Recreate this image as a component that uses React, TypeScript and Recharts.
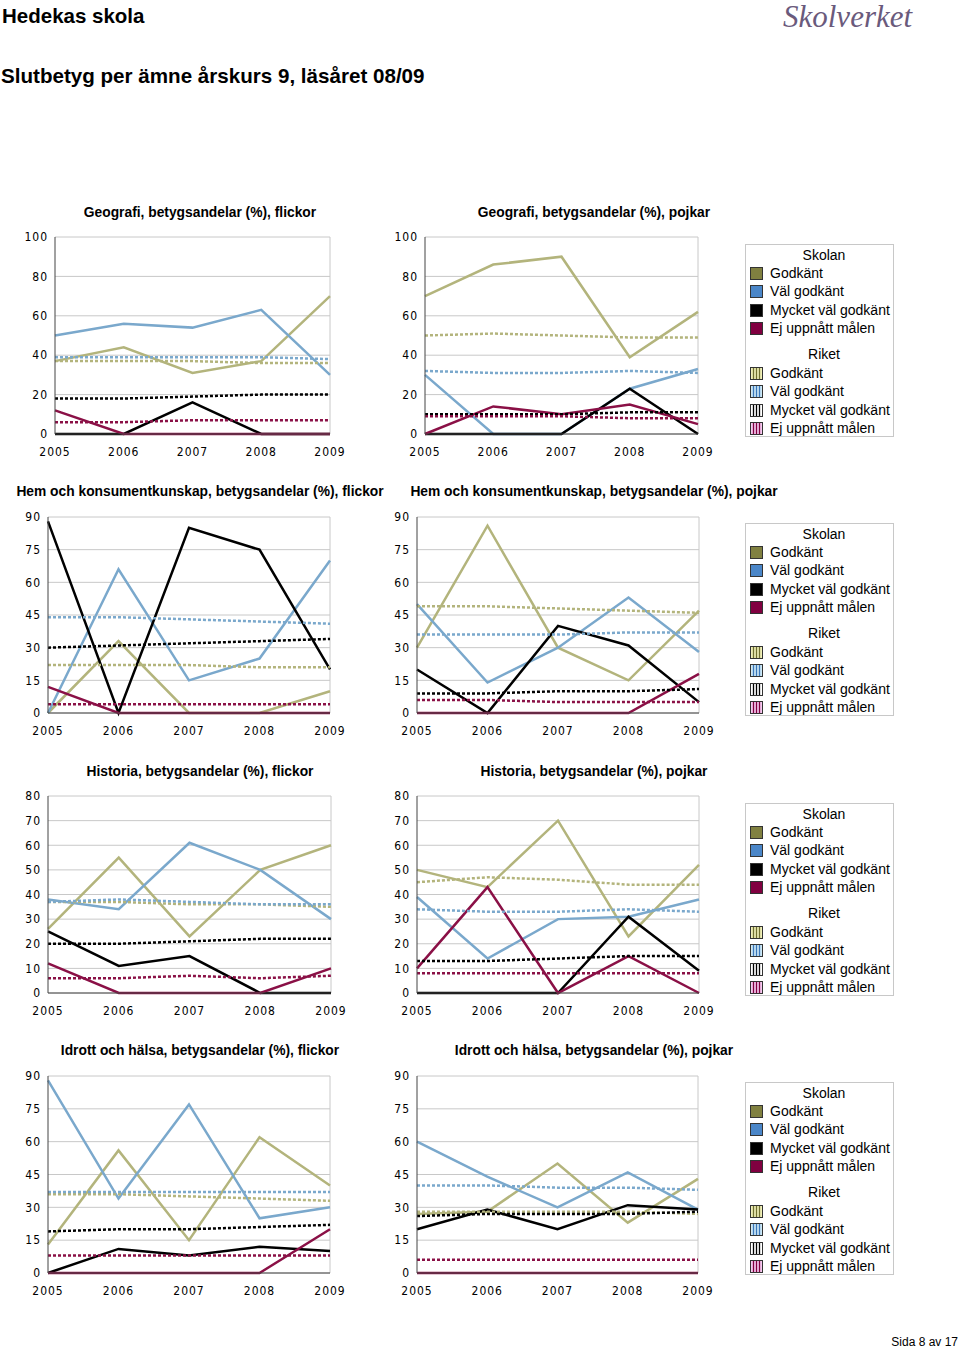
import React from "react";
import { LineChart, Line, XAxis, YAxis, CartesianGrid, ReferenceLine } from "recharts";

const years = ["2005", "2006", "2007", "2008", "2009"];

// Geografi, flickor
const geoF_G = [37, 44, 31, 37, 70];
const geoF_VG = [50, 56, 54, 63, 30];
const geoF_MVG = [0, 0, 16, 0, 0];
const geoF_Ej = [12, 0, 0, 0, 0];
const geoF_rG = [37, 37, 37, 36, 36];
const geoF_rVG = [39, 39, 39, 39, 38];
const geoF_rMVG = [18, 18, 19, 20, 20];
const geoF_rEj = [6, 6, 7, 7, 7];

// Geografi, pojkar
const geoP_G = [70, 86, 90, 39, 62];
const geoP_VG = [30, 0, 0, 23, 33];
const geoP_MVG = [0, 0, 0, 23, 0];
const geoP_Ej = [0, 14, 10, 15, 5];
const geoP_rG = [50, 51, 50, 49, 49];
const geoP_rVG = [32, 31, 31, 32, 31];
const geoP_rMVG = [10, 10, 10, 11, 11];
const geoP_rEj = [9, 9, 9, 8, 8];

// Hem och konsumentkunskap, flickor
const hkF_G = [0, 33, 0, 0, 10];
const hkF_VG = [0, 66, 15, 25, 70];
const hkF_MVG = [88, 0, 85, 75, 20];
const hkF_Ej = [12, 0, 0, 0, 0];
const hkF_rG = [22, 22, 22, 21, 21];
const hkF_rVG = [44, 44, 43, 42, 41];
const hkF_rMVG = [30, 31, 32, 33, 34];
const hkF_rEj = [4, 4, 4, 4, 4];

// Hem och konsumentkunskap, pojkar
const hkP_G = [30, 86, 30, 15, 47];
const hkP_VG = [50, 14, 30, 53, 28];
const hkP_MVG = [20, 0, 40, 31, 5];
const hkP_Ej = [0, 0, 0, 0, 18];
const hkP_rG = [49, 49, 48, 47, 46];
const hkP_rVG = [36, 36, 36, 37, 37];
const hkP_rMVG = [9, 9, 10, 10, 11];
const hkP_rEj = [6, 6, 5, 5, 5];

// Historia, flickor
const hiF_G = [26, 55, 23, 50, 60];
const hiF_VG = [38, 34, 61, 50, 30];
const hiF_MVG = [25, 11, 15, 0, 0];
const hiF_Ej = [12, 0, 0, 0, 10];
const hiF_rG = [37, 37, 36, 36, 35];
const hiF_rVG = [37, 38, 37, 36, 36];
const hiF_rMVG = [20, 20, 21, 22, 22];
const hiF_rEj = [6, 6, 7, 6, 7];

// Historia, pojkar
const hiP_G = [50, 43, 70, 23, 52];
const hiP_VG = [39, 14, 30, 31, 38];
const hiP_MVG = [0, 0, 0, 31, 9];
const hiP_Ej = [10, 43, 0, 15, 0];
const hiP_rG = [45, 47, 46, 44, 44];
const hiP_rVG = [34, 33, 33, 34, 33];
const hiP_rMVG = [13, 13, 14, 15, 15];
const hiP_rEj = [8, 8, 8, 8, 8];

// Idrott och hälsa, flickor
const idF_G = [13, 56, 15, 62, 40];
const idF_VG = [88, 34, 77, 25, 30];
const idF_MVG = [0, 11, 8, 12, 10];
const idF_Ej = [0, 0, 0, 0, 20];
const idF_rG = [36, 36, 35, 34, 33];
const idF_rVG = [37, 37, 37, 37, 37];
const idF_rMVG = [19, 20, 20, 21, 22];
const idF_rEj = [8, 8, 8, 8, 8];

// Idrott och hälsa, pojkar
const idP_G = [27, 28, 50, 23, 43];
const idP_VG = [60, 44, 30, 46, 29];
const idP_MVG = [20, 29, 20, 31, 29];
const idP_Ej = [0, 0, 0, 0, 0];
const idP_rG = [28, 28, 28, 28, 27];
const idP_rVG = [40, 40, 39, 39, 38];
const idP_rMVG = [26, 27, 27, 27, 28];
const idP_rEj = [6, 6, 6, 6, 6];

const ticks100 = [0, 20, 40, 60, 80, 100];
const ticks90 = [0, 15, 30, 45, 60, 75, 90];
const ticks80 = [0, 10, 20, 30, 40, 50, 60, 70, 80];

const colG = "#b3b47c";
const colVG = "#7aa8cc";
const colMVG = "#000000";
const colEj = "#8a1046";

const tickFont = "'DejaVu Sans Condensed', 'DejaVu Sans', sans-serif";
const sansFont = "'Liberation Sans', Arial, sans-serif";

const build = (g: number[], vg: number[], mvg: number[], ej: number[], rg: number[], rvg: number[], rmvg: number[], rej: number[]) =>
    years.map((year, i) => ({
        year,
        G: g[i],
        VG: vg[i],
        MVG: mvg[i],
        Ej: ej[i],
        rG: rg[i],
        rVG: rvg[i],
        rMVG: rmvg[i],
        rEj: rej[i],
    }));

interface ChartProps {
    title: string;
    titleX: number;
    titleY: number;
    data: any[];
    ticks: number[];
    left: number;
    right: number;
    top: number;
    bottom: number;
}

const Y_W = 40;
const M_TOP = 10;
const M_RIGHT = 22;
const X_H = 30;

const SmallChart: React.FC<ChartProps> = ({ title, titleX, titleY, data, ticks, left, right, top, bottom }) => {
    const max = ticks[ticks.length - 1];
    return (
        <>
            <div
                style={{
                    position: "absolute",
                    left: titleX - 250,
                    width: 500,
                    top: titleY - 9,
                    textAlign: "center",
                    fontFamily: sansFont,
                    fontWeight: "bold",
                    fontSize: 13.8,
                    lineHeight: "18px",
                }}
            >
                {title}
            </div>
            <div style={{ position: "absolute", left: left - Y_W, top: top - M_TOP }}>
                <LineChart
                    width={right - left + Y_W + M_RIGHT}
                    height={bottom - top + M_TOP + X_H}
                    data={data}
                    margin={{ top: M_TOP, right: M_RIGHT, left: 0, bottom: 0 }}
                >
                    <CartesianGrid vertical={false} stroke="#c8c8c8" />
                    <ReferenceLine x="2009" stroke="#c8c8c8" />
                    <XAxis
                        dataKey="year"
                        height={X_H}
                        tickLine={false}
                        axisLine={{ stroke: "#444" }}
                        tickMargin={7}
                        tick={{ fill: "#000", fontSize: 12, fontFamily: tickFont, letterSpacing: 1 }}
                        interval={0}
                    />
                    <YAxis
                        width={Y_W}
                        domain={[0, max]}
                        ticks={ticks}
                        tickLine={false}
                        axisLine={{ stroke: "#444" }}
                        tickMargin={1}
                        tick={{ fill: "#000", fontSize: 12, fontFamily: tickFont, letterSpacing: 1 }}
                        interval={0}
                    />
                    <Line dataKey="G" stroke={colG} strokeWidth={2.5} dot={false} isAnimationActive={false} />
                    <Line dataKey="VG" stroke={colVG} strokeWidth={2.5} dot={false} isAnimationActive={false} />
                    <Line dataKey="MVG" stroke={colMVG} strokeWidth={2.5} dot={false} isAnimationActive={false} />
                    <Line dataKey="Ej" stroke={colEj} strokeWidth={2.5} dot={false} isAnimationActive={false} />
                    <Line dataKey="rG" stroke={colG} strokeWidth={2.5} strokeDasharray="3 2" dot={false} isAnimationActive={false} />
                    <Line dataKey="rVG" stroke={colVG} strokeWidth={2.5} strokeDasharray="3 2" dot={false} isAnimationActive={false} />
                    <Line dataKey="rMVG" stroke={colMVG} strokeWidth={2.5} strokeDasharray="3 2" dot={false} isAnimationActive={false} />
                    <Line dataKey="rEj" stroke={colEj} strokeWidth={2.5} strokeDasharray="3 2" dot={false} isAnimationActive={false} />
                </LineChart>
            </div>
        </>
    );
};

const Swatch: React.FC<{ fill: string; stripe?: string }> = ({ fill, stripe }) => (
    <svg width={13} height={13} style={{ display: "block" }}>
        <rect x={0.5} y={0.5} width={12} height={12} fill={fill} stroke="#333" />
        {stripe &&
            [3.5, 6.5, 9.5].map((x) => <line key={x} x1={x} y1={1} x2={x} y2={12} stroke={stripe} strokeWidth={1.3} />)}
    </svg>
);

const skolanItems = [
    { label: "Godkänt", fill: "#808040" },
    { label: "Väl godkänt", fill: "#4a86c8" },
    { label: "Mycket väl godkänt", fill: "#000000" },
    { label: "Ej uppnått målen", fill: "#800040" },
];
const riketItems = [
    { label: "Godkänt", fill: "#f0f0b8", stripe: "#6f6f30" },
    { label: "Väl godkänt", fill: "#cce8f6", stripe: "#3a76b8" },
    { label: "Mycket väl godkänt", fill: "#ffffff", stripe: "#000000" },
    { label: "Ej uppnått målen", fill: "#f6c8f0", stripe: "#800040" },
];

const LegendBox: React.FC<{ top: number }> = ({ top }) => {
    const row = (it: any, y: number) => (
        <div key={it.label + y} style={{ position: "absolute", left: 4, top: y - 7, display: "flex", alignItems: "center", height: 14 }}>
            <Swatch fill={it.fill} stripe={it.stripe} />
            <span style={{ marginLeft: 7, fontSize: 14, fontFamily: sansFont, lineHeight: "14px", whiteSpace: "nowrap" }}>{it.label}</span>
        </div>
    );
    const head = (text: string, y: number) => (
        <div style={{ position: "absolute", left: 4, width: 148, top: y - 8, textAlign: "center", fontSize: 14, fontFamily: sansFont, lineHeight: "16px" }}>
            {text}
        </div>
    );
    return (
        <div
            style={{
                position: "absolute",
                left: 745,
                top,
                width: 147,
                height: 191,
                border: "1px solid #c8c8c8",
                background: "#fff",
            }}
        >
            {head("Skolan", 10)}
            {skolanItems.map((it, i) => row(it, [28, 46, 65, 83][i]))}
            {head("Riket", 109)}
            {riketItems.map((it, i) => row(it, [128, 146, 165, 183][i]))}
        </div>
    );
};

export default function App() {
    return (
        <div style={{ position: "absolute", left: 0, top: 0, width: 960, height: 1351, background: "#fff", fontFamily: sansFont }}>
            <div style={{ position: "absolute", left: 2, top: 4, fontSize: 20.5, fontWeight: "bold" }}>Hedekas skola</div>
            <div
                style={{
                    position: "absolute",
                    left: 783,
                    top: -1,
                    fontSize: 31,
                    fontStyle: "italic",
                    fontFamily: "'Liberation Serif', serif",
                    color: "#6a5a7c",
                }}
            >
                Skolverket
            </div>
            <div style={{ position: "absolute", left: 1, top: 64, fontSize: 20.6, fontWeight: "bold" }}>
                Slutbetyg per ämne årskurs 9, läsåret 08/09
            </div>

            <SmallChart
                title="Geografi, betygsandelar (%), flickor"
                titleX={200}
                titleY={213}
                data={build(geoF_G, geoF_VG, geoF_MVG, geoF_Ej, geoF_rG, geoF_rVG, geoF_rMVG, geoF_rEj)}
                ticks={ticks100}
                left={55}
                right={330}
                top={237}
                bottom={434}
            />
            <SmallChart
                title="Geografi, betygsandelar (%), pojkar"
                titleX={594}
                titleY={213}
                data={build(geoP_G, geoP_VG, geoP_MVG, geoP_Ej, geoP_rG, geoP_rVG, geoP_rMVG, geoP_rEj)}
                ticks={ticks100}
                left={425}
                right={698}
                top={237}
                bottom={434}
            />
            <LegendBox top={244} />

            <SmallChart
                title="Hem och konsumentkunskap, betygsandelar (%), flickor"
                titleX={200}
                titleY={492}
                data={build(hkF_G, hkF_VG, hkF_MVG, hkF_Ej, hkF_rG, hkF_rVG, hkF_rMVG, hkF_rEj)}
                ticks={ticks90}
                left={48}
                right={330}
                top={517}
                bottom={713}
            />
            <SmallChart
                title="Hem och konsumentkunskap, betygsandelar (%), pojkar"
                titleX={594}
                titleY={492}
                data={build(hkP_G, hkP_VG, hkP_MVG, hkP_Ej, hkP_rG, hkP_rVG, hkP_rMVG, hkP_rEj)}
                ticks={ticks90}
                left={417}
                right={699}
                top={517}
                bottom={713}
            />
            <LegendBox top={523} />

            <SmallChart
                title="Historia, betygsandelar (%), flickor"
                titleX={200}
                titleY={772}
                data={build(hiF_G, hiF_VG, hiF_MVG, hiF_Ej, hiF_rG, hiF_rVG, hiF_rMVG, hiF_rEj)}
                ticks={ticks80}
                left={48}
                right={331}
                top={796}
                bottom={993}
            />
            <SmallChart
                title="Historia, betygsandelar (%), pojkar"
                titleX={594}
                titleY={772}
                data={build(hiP_G, hiP_VG, hiP_MVG, hiP_Ej, hiP_rG, hiP_rVG, hiP_rMVG, hiP_rEj)}
                ticks={ticks80}
                left={417}
                right={699}
                top={796}
                bottom={993}
            />
            <LegendBox top={803} />

            <SmallChart
                title="Idrott och hälsa, betygsandelar (%), flickor"
                titleX={200}
                titleY={1051}
                data={build(idF_G, idF_VG, idF_MVG, idF_Ej, idF_rG, idF_rVG, idF_rMVG, idF_rEj)}
                ticks={ticks90}
                left={48}
                right={330}
                top={1076}
                bottom={1273}
            />
            <SmallChart
                title="Idrott och hälsa, betygsandelar (%), pojkar"
                titleX={594}
                titleY={1051}
                data={build(idP_G, idP_VG, idP_MVG, idP_Ej, idP_rG, idP_rVG, idP_rMVG, idP_rEj)}
                ticks={ticks90}
                left={417}
                right={698}
                top={1076}
                bottom={1273}
            />
            <LegendBox top={1082} />

            <div style={{ position: "absolute", right: 2, top: 1335, fontSize: 12 }}>Sida 8 av 17</div>
        </div>
    );
}
